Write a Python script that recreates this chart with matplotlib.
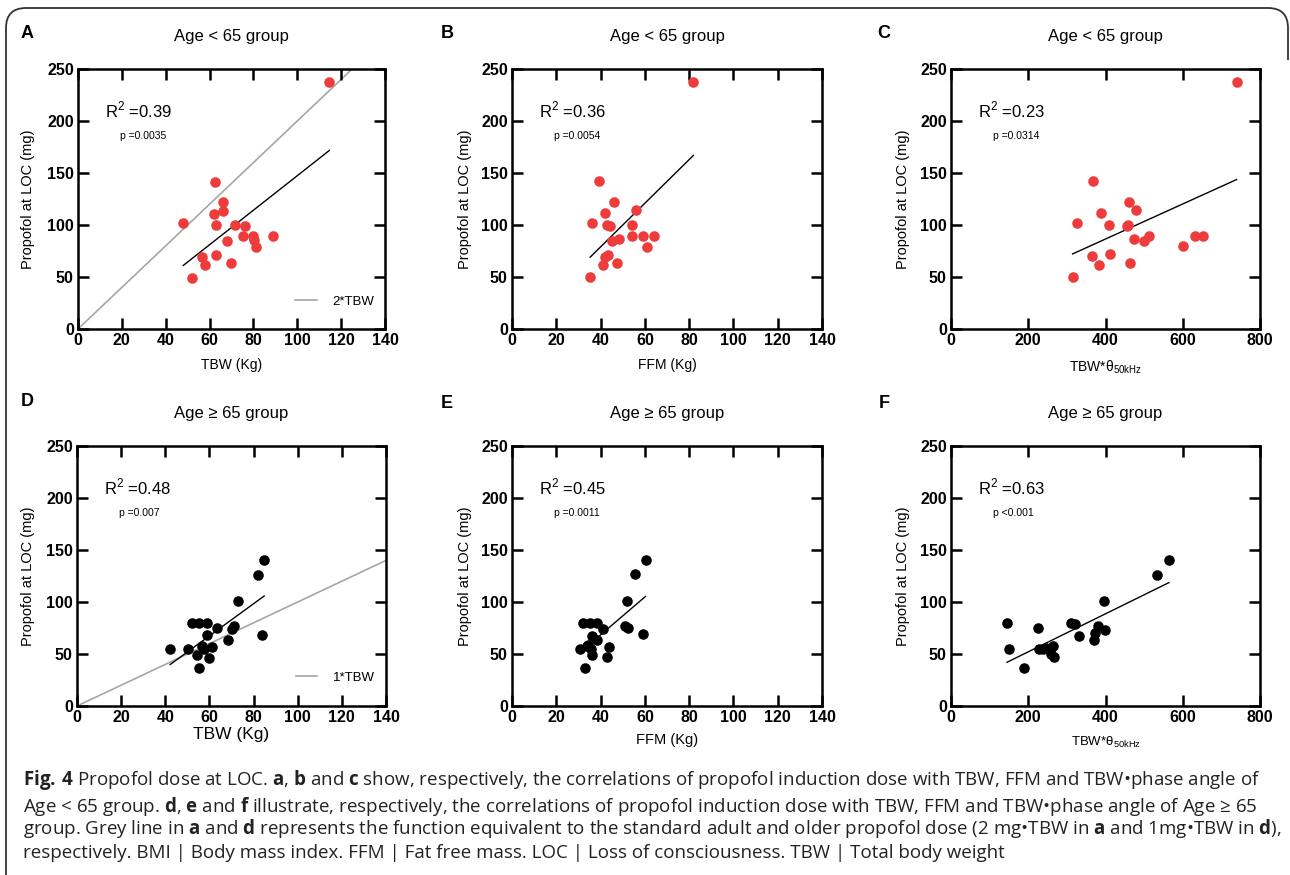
import numpy as np
import matplotlib
matplotlib.use("Agg")
import matplotlib.pyplot as plt
from matplotlib import font_manager
from matplotlib.path import Path
from matplotlib.patches import PathPatch

# values
# Age < 65 group
a_x = [114.6, 62.6, 66.1, 66.1, 62.0, 48.0, 63.0, 71.8, 76.0, 75.1, 79.9, 80.2, 88.7, 68.0, 81.0, 56.7, 63.0, 58.1, 70.0, 51.9]
a_y = [237.2, 141.7, 121.8, 113.4, 110.9, 101.9, 99.6, 99.6, 98.6, 89.7, 89.7, 85.2, 89.3, 84.5, 79.0, 69.7, 71.3, 61.1, 63.3, 49.5]
b_x = [81.9, 39.2, 46.0, 56.1, 42.1, 36.1, 43.1, 44.4, 54.0, 54.0, 59.0, 64.1, 48.1, 45.1, 60.9, 42.2, 43.3, 41.0, 47.2, 35.3]
b_y = [237.2, 142.0, 122.1, 114.1, 111.2, 101.9, 100.0, 98.7, 100.0, 89.7, 89.7, 89.7, 86.5, 84.9, 79.2, 69.6, 71.2, 61.5, 63.8, 50.0]
c_x = [739.4, 366.7, 459.9, 478.9, 387.4, 326.2, 409.8, 455.6, 459.0, 472.8, 499.6, 513.4, 599.7, 631.6, 651.4, 365.0, 412.4, 384.0, 463.3, 314.9]
c_y = [237.2, 142.0, 122.1, 114.1, 111.2, 101.9, 100.0, 99.4, 100.0, 86.5, 84.6, 89.7, 79.8, 89.7, 89.7, 69.9, 71.8, 61.5, 63.8, 50.0]
# Age >= 65 group
d_x = [84.8, 81.8, 73.0, 84.0, 52.0, 55.2, 59.0, 63.5, 71.2, 70.4, 59.1, 68.6, 42.2, 50.1, 56.7, 61.2, 54.3, 59.9, 55.1, 57.5]
d_y = [140.5, 126.4, 100.8, 68.5, 79.4, 79.4, 79.4, 74.6, 76.8, 74.3, 67.9, 63.1, 54.4, 54.4, 57.9, 56.3, 48.7, 46.4, 36.2, 55.0]
e_x = [60.3, 55.4, 52.0, 59.1, 51.0, 52.4, 32.0, 35.3, 38.3, 41.2, 36.1, 38.6, 30.9, 33.9, 35.5, 43.9, 36.3, 43.1, 33.0, 34.5]
e_y = [140.5, 126.8, 100.8, 68.8, 76.8, 74.6, 79.7, 79.7, 79.7, 73.9, 67.5, 63.4, 54.4, 57.6, 54.4, 56.7, 48.7, 46.7, 36.5, 59.0]
f_x = [564.3, 534.1, 396.0, 145.0, 150.1, 225.2, 311.5, 321.0, 330.5, 379.6, 399.5, 373.6, 369.3, 228.7, 239.0, 263.2, 258.0, 267.5, 189.0, 247.0]
f_y = [140.5, 126.4, 100.8, 79.7, 55.1, 75.2, 79.4, 78.7, 67.5, 76.8, 73.3, 70.1, 63.1, 55.1, 54.4, 57.9, 49.9, 46.7, 36.5, 55.5]

r2_labels = ["0.39", "0.36", "0.23", "0.48", "0.45", "0.63"]
p_labels = ["p =0.0035", "p =0.0054", "p =0.0314", "p =0.007", "p =0.0011", "p <0.001"]
panel_letters = ["A", "B", "C", "D", "E", "F"]
xlabels = ["TBW (Kg)", "FFM (Kg)", "TBW*θ$_{\\mathregular{50kHz}}$"] * 2
xmax = [140, 140, 800] * 2

# standard dose reference lines: dose = k * TBW
ref_slope = {0: 2, 3: 1}
ref_label = {0: "2*TBW", 3: "1*TBW"}

caption_lines = [
    r"$\mathbf{Fig.\,4}$ Propofol dose at LOC. $\mathbf{a}$, $\mathbf{b}$ and $\mathbf{c}$ show, respectively, the correlations of propofol induction dose with TBW, FFM and TBW•phase angle of",
    r"Age < 65 group. $\mathbf{d}$, $\mathbf{e}$ and $\mathbf{f}$ illustrate, respectively, the correlations of propofol induction dose with TBW, FFM and TBW•phase angle of Age ≥ 65",
    r"group. Grey line in $\mathbf{a}$ and $\mathbf{d}$ represents the function equivalent to the standard adult and older propofol dose (2 mg•TBW in $\mathbf{a}$ and 1mg•TBW in $\mathbf{d}$),",
    "respectively. BMI | Body mass index. FFM | Fat free mass. LOC | Loss of consciousness. TBW | Total body weight",
]

names = {f.name for f in font_manager.fontManager.ttflist}
cap_font = "Liberation Sans Narrow" if "Liberation Sans Narrow" in names else "Open Sans"

plt.rcParams["font.family"] = ["Liberation Sans", "DejaVu Sans"]
plt.rcParams["mathtext.fontset"] = "custom"
plt.rcParams["mathtext.rm"] = cap_font
plt.rcParams["mathtext.bf"] = cap_font + ":bold"

W, H = 1290, 875
fig = plt.figure(figsize=(W / 100, H / 100), dpi=100)


def fx(px):
    return px / W


def fy(py):
    return 1 - py / H


# axes boxes in pixels: left, top, right, bottom
boxes = [
    (78, 69, 385, 329), (512, 69, 822, 329), (951, 69, 1260, 329),
    (77, 446, 386, 706), (512, 446, 822, 706), (951, 446, 1260, 706),
]
xs = [a_x, b_x, c_x, d_x, e_x, f_x]
ys = [a_y, b_y, c_y, d_y, e_y, f_y]
title_x = [231, 667, 1105] * 2
title_y = [37, 37, 37, 414, 414, 414]
letter_x = [27, 447, 884] * 2
letter_y = [33, 33, 33, 402, 403, 403]
ylab_x = [35, 472, 910]
xlab_y = [365, 365, 367, 735, 740, 742]
xlab_size = [10, 10, 10, 12.5, 10.5, 9.5]

for i in range(6):
    l, t, r, b = boxes[i]
    ax = fig.add_axes([fx(l), fy(b), fx(r - l), (b - t) / H])
    young = i < 3
    color = "#EE3B3B" if young else "black"

    if i in ref_slope:
        gx = np.array([0, xmax[i]])
        ax.plot(gx, ref_slope[i] * gx, color="#A6A6A6", lw=1.2, label=ref_label[i], zorder=1)
        ax.legend(loc="center right", bbox_to_anchor=(0.965, 0.104 if i == 0 else 0.11),
                  frameon=False, fontsize=9.5, handlelength=1.6, handletextpad=1.2,
                  borderpad=0, borderaxespad=0)

    ax.plot(xs[i], ys[i], "o", color=color, ms=7.6, mec="none", zorder=3)

    k, c = np.polyfit(xs[i], ys[i], 1)
    lx = np.array([min(xs[i]), max(xs[i])])
    ax.plot(lx, k * lx + c, color="black", lw=1.0, zorder=2)

    ax.set_xlim(0, xmax[i])
    ax.set_ylim(0, 250)
    xt = np.linspace(0, xmax[i], 8 if xmax[i] == 140 else 5).astype(int)
    yt = [0, 50, 100, 150, 200, 250]
    ax.set_xticks(xt, [str(v) for v in xt], fontweight="bold", fontsize=11.5)
    ax.set_yticks(yt, [str(v) for v in yt], fontweight="bold", fontsize=11.5)
    ax.tick_params(direction="in", length=8, width=1.8, top=True, right=True, pad=3)
    for sp in ax.spines.values():
        sp.set_linewidth(1.8)

    ax.set_ylabel("Propofol at LOC (mg)", fontsize=10.5)
    ax.yaxis.set_label_coords((ylab_x[i % 3] - l) / (r - l), 0.5)

    ax.text(0.087, 0.842, "R$^{\\mathregular{2}}$ =" + r2_labels[i], transform=ax.transAxes,
            fontsize=12, va="center", ha="left")
    ax.text(0.137, 0.743, p_labels[i], transform=ax.transAxes,
            fontsize=7.5, va="center", ha="left")

    fig.text(fx(title_x[i]), fy(title_y[i]),
             "Age < 65 group" if young else "Age ≥ 65 group",
             fontsize=12, ha="center", va="center")
    fig.text(fx(letter_x[i]), fy(letter_y[i]), panel_letters[i],
             fontsize=13, fontweight="bold", ha="center", va="center")
    fig.text(fx((l + r) / 2), fy(xlab_y[i]), xlabels[i],
             fontsize=xlab_size[i], ha="center", va="center")

# caption
cap_y = [780, 806, 829, 853]
for line, yy in zip(caption_lines, cap_y):
    fig.text(fx(23), fy(yy), line, fontsize=13.5, family=cap_font,
             ha="left", va="center", color="#222222")

# outer frame with rounded top corners
rad = 20
verts = [(6, 875), (6, 8 + rad), (6, 8), (6 + rad, 8), (1288 - rad, 8), (1288, 8), (1288, 8 + rad), (1288, 60)]
codes = [Path.MOVETO, Path.LINETO, Path.CURVE3, Path.CURVE3, Path.LINETO, Path.CURVE3, Path.CURVE3, Path.LINETO]
verts = [(fx(x), fy(y)) for x, y in verts]
fig.patches.append(PathPatch(Path(verts, codes), transform=fig.transFigure,
                             fill=False, edgecolor="#333333", lw=1.3))

fig.savefig("out.png", dpi=100)
